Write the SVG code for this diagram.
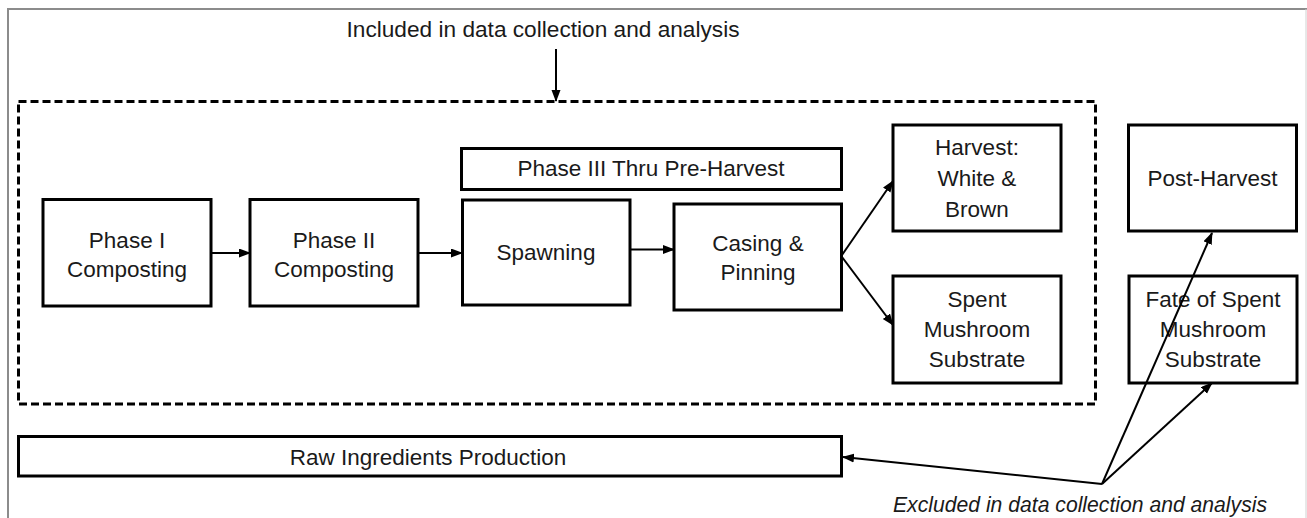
<svg xmlns="http://www.w3.org/2000/svg" width="1307" height="518" viewBox="0 0 1307 518">
<style>
  .box { fill: #ffffff; stroke: #000000; stroke-width: 3; }
  .lbl { font-family: "Liberation Sans", Arial, sans-serif; font-size: 22.5px; fill: #1a1a1a; text-anchor: middle; }
  .conn { stroke: #000000; stroke-width: 2; fill: none; marker-end: url(#arrow); }
  .frame { stroke: #8c8c8c; stroke-width: 2; fill: none; }
</style>
<defs>
  <marker id="arrow" markerUnits="userSpaceOnUse" markerWidth="12" markerHeight="10" refX="11" refY="4.5" orient="auto">
    <path d="M0,0 L12,4.5 L0,9 z" fill="#000000"/>
  </marker>
</defs>
<rect width="1307" height="518" fill="#ffffff"/>
<g id="frame">
  <path class="frame" d="M8,518 L8,9 L1307,9"/>
  <line x1="1306" y1="9" x2="1306" y2="518" stroke="#d0d0d0" stroke-width="1"/>
</g>
<g id="included-label">
  <text class="lbl" x="543" y="37" textLength="393" lengthAdjust="spacingAndGlyphs">Included in data collection and analysis</text>
</g>
<g id="included-region">
  <rect x="18.5" y="101.5" width="1077" height="302.5" fill="none" stroke="#000" stroke-width="3" stroke-dasharray="8,4"/>
</g>
<g id="phase1">
  <rect class="box" x="43" y="199.5" width="168" height="106.5"/>
  <text class="lbl" x="127" y="248">Phase I</text>
  <text class="lbl" x="127" y="277">Composting</text>
</g>
<g id="phase2">
  <rect class="box" x="250" y="199.5" width="168" height="106.5"/>
  <text class="lbl" x="334" y="248">Phase II</text>
  <text class="lbl" x="334" y="277">Composting</text>
</g>
<g id="phase3">
  <rect class="box" x="461.5" y="148.5" width="380" height="41"/>
  <text class="lbl" x="651" y="176">Phase III Thru Pre-Harvest</text>
</g>
<g id="spawning">
  <rect class="box" x="462.5" y="200" width="167.5" height="105"/>
  <text class="lbl" x="546" y="260">Spawning</text>
</g>
<g id="casing">
  <rect class="box" x="674" y="204" width="167.5" height="106"/>
  <text class="lbl" x="758" y="251">Casing &amp;</text>
  <text class="lbl" x="758" y="280">Pinning</text>
</g>
<g id="harvest">
  <rect class="box" x="893" y="125" width="168" height="106"/>
  <text class="lbl" x="977" y="155">Harvest:</text>
  <text class="lbl" x="977" y="186">White &amp;</text>
  <text class="lbl" x="977" y="217">Brown</text>
</g>
<g id="spent">
  <rect class="box" x="893" y="276" width="168" height="107"/>
  <text class="lbl" x="977" y="307">Spent</text>
  <text class="lbl" x="977" y="337">Mushroom</text>
  <text class="lbl" x="977" y="367">Substrate</text>
</g>
<g id="post-harvest">
  <rect class="box" x="1128.5" y="125" width="168" height="106"/>
  <text class="lbl" x="1212.5" y="186">Post-Harvest</text>
</g>
<g id="fate">
  <rect class="box" x="1129" y="276" width="168" height="107"/>
  <text class="lbl" x="1213" y="307">Fate of Spent</text>
  <text class="lbl" x="1213" y="337">Mushroom</text>
  <text class="lbl" x="1213" y="367">Substrate</text>
</g>
<g id="raw-ingredients">
  <rect class="box" x="18.5" y="436.5" width="823" height="39.5"/>
  <text class="lbl" x="428" y="465">Raw Ingredients Production</text>
</g>
<g id="excluded-label">
  <text class="lbl" x="1080" y="512" font-style="italic" textLength="374" lengthAdjust="spacingAndGlyphs">Excluded in data collection and analysis</text>
</g>
<g id="connectors">
  <line class="conn" x1="556" y1="49" x2="556" y2="101"/>
  <line class="conn" x1="211" y1="253" x2="250" y2="253"/>
  <line class="conn" x1="418" y1="253" x2="462" y2="253"/>
  <line class="conn" x1="630" y1="249.5" x2="674" y2="249.5"/>
  <line class="conn" x1="842" y1="255" x2="893" y2="181"/>
  <line class="conn" x1="842" y1="257" x2="893" y2="325"/>
  <line class="conn" x1="1102" y1="484" x2="843" y2="457"/>
  <line class="conn" x1="1102" y1="484" x2="1212" y2="233"/>
  <line class="conn" x1="1102" y1="484" x2="1212" y2="383"/>
</g>
</svg>
